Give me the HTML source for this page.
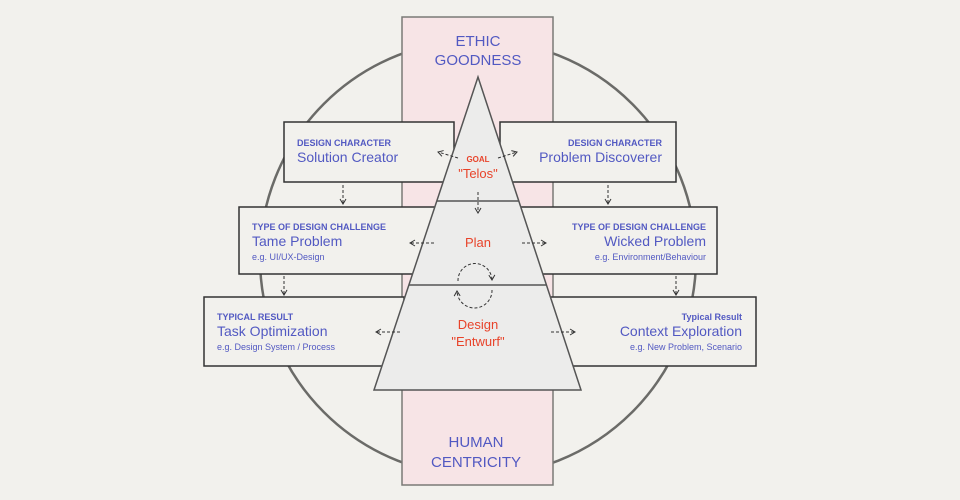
<!DOCTYPE html>
<html><head><meta charset="utf-8"><style>
body{margin:0;background:#f2f1ed;}
svg{display:block;font-family:"Liberation Sans",sans-serif;}
</style></head><body>
<svg width="960" height="500" viewBox="0 0 960 500">
<defs>
<marker id="a" markerWidth="8" markerHeight="8" refX="6" refY="4" orient="auto" markerUnits="userSpaceOnUse"><path d="M1,1 L6,4 L1,7" fill="none" stroke="#333" stroke-width="1"/></marker>
</defs>
<rect width="960" height="500" fill="#f2f1ed"/>
<circle cx="478" cy="258" r="218" fill="none" stroke="#6b6b68" stroke-width="2.5"/>
<rect x="402" y="17" width="151" height="468" fill="#f7e4e6" stroke="#7a7a77" stroke-width="1.5"/>
<g fill="#f2f1ed" stroke="#333" stroke-width="1.5">
<rect x="284" y="122" width="170" height="60"/>
<rect x="500" y="122" width="176" height="60"/>
<rect x="239" y="207" width="198" height="67"/>
<rect x="519" y="207" width="198" height="67"/>
<rect x="204" y="297" width="200" height="69"/>
<rect x="550" y="297" width="206" height="69"/>
</g>
<polygon points="478,77 374,390 581,390" fill="#ececeb" stroke="#555" stroke-width="1.5"/>
<line x1="437" y1="201" x2="519" y2="201" stroke="#555" stroke-width="1.5"/>
<line x1="409" y1="285" x2="547" y2="285" stroke="#555" stroke-width="1.5"/>
<g stroke="#333" stroke-width="1" stroke-dasharray="3,2" fill="none" marker-end="url(#a)">
<line x1="343" y1="185" x2="343" y2="204"/>
<line x1="608" y1="185" x2="608" y2="204"/>
<line x1="284" y1="276" x2="284" y2="295"/>
<line x1="676" y1="276" x2="676" y2="295"/>
<line x1="478" y1="192" x2="478" y2="213"/>
<line x1="458" y1="158" x2="438" y2="152"/>
<line x1="498" y1="158" x2="517" y2="152"/>
<line x1="434" y1="243" x2="410" y2="243"/>
<line x1="522" y1="243" x2="546" y2="243"/>
<line x1="400" y1="332" x2="376" y2="332"/>
<line x1="551" y1="332" x2="575" y2="332"/>
<path d="M458,281 A17,17 0 0 1 492,280"/>
<path d="M492,290 A17,17 0 0 1 457,291"/>
</g>
<g fill="#5259c2" text-anchor="middle">
<text x="478" y="46" font-size="15">ETHIC</text>
<text x="478" y="65" font-size="15">GOODNESS</text>
<text x="476" y="447" font-size="15">HUMAN</text>
<text x="476" y="467" font-size="15">CENTRICITY</text>
</g>
<g fill="#e8432a" text-anchor="middle">
<text x="478" y="162" font-size="8" font-weight="bold">GOAL</text>
<text x="478" y="178" font-size="13">"Telos"</text>
<text x="478" y="247" font-size="13">Plan</text>
<text x="478" y="329" font-size="13">Design</text>
<text x="478" y="346" font-size="13">"Entwurf"</text>
</g>
<g fill="#5259c2">
<text x="297" y="146" font-size="9" font-weight="bold">DESIGN CHARACTER</text>
<text x="297" y="162" font-size="14">Solution Creator</text>
<text x="252" y="230" font-size="9" font-weight="bold">TYPE OF DESIGN CHALLENGE</text>
<text x="252" y="246" font-size="14">Tame Problem</text>
<text x="252" y="260" font-size="9">e.g. UI/UX-Design</text>
<text x="217" y="320" font-size="9" font-weight="bold">TYPICAL RESULT</text>
<text x="217" y="336" font-size="14">Task Optimization</text>
<text x="217" y="350" font-size="9">e.g. Design System / Process</text>
</g>
<g fill="#5259c2" text-anchor="end">
<text x="662" y="146" font-size="9" font-weight="bold">DESIGN CHARACTER</text>
<text x="662" y="162" font-size="14">Problem Discoverer</text>
<text x="706" y="230" font-size="9" font-weight="bold">TYPE OF DESIGN CHALLENGE</text>
<text x="706" y="246" font-size="14">Wicked Problem</text>
<text x="706" y="260" font-size="9">e.g. Environment/Behaviour</text>
<text x="742" y="320" font-size="9" font-weight="bold">Typical Result</text>
<text x="742" y="336" font-size="14">Context Exploration</text>
<text x="742" y="350" font-size="9">e.g. New Problem, Scenario</text>
</g>
</svg>
</body></html>
